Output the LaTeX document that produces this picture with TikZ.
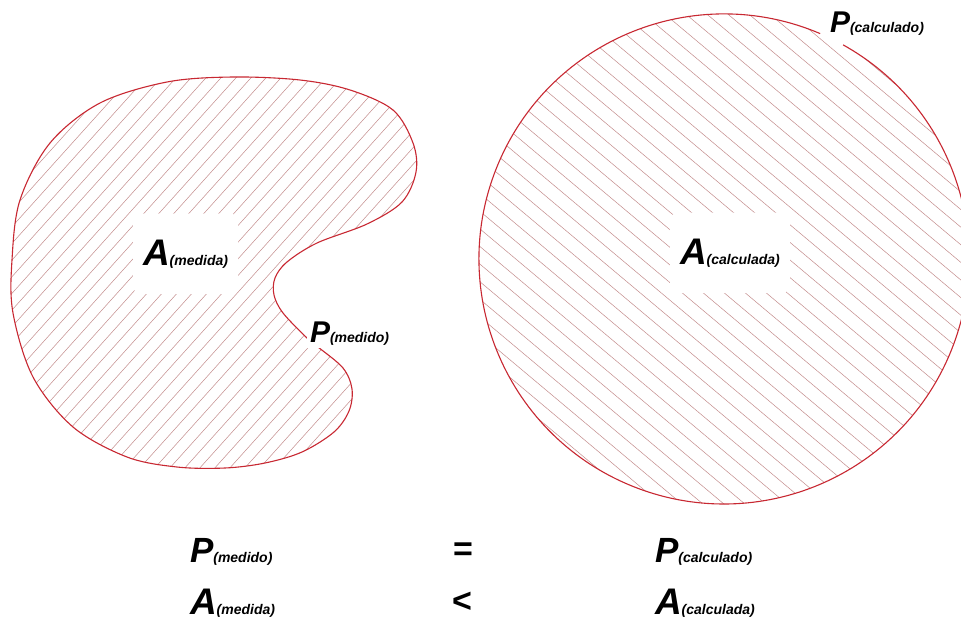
\documentclass[tikz,border=0pt]{standalone}
\usepackage{fontspec}
\newfontfamily\lblfont{Liberation Sans}
\usepackage{xcolor}
\definecolor{edge}{RGB}{200,40,50}
\definecolor{hatch}{RGB}{195,140,140}
\newcommand{\magn}[3][35]{{\fontsize{#1}{#1}\selectfont #2}{\fontsize{14}{14}\selectfont(#3)}}

\begin{document}
\begin{tikzpicture}[x=1pt,y=-1pt,
  outline/.style={draw=edge,line width=1.1pt},
  hatchline/.style={draw=hatch,line width=0.5pt},
  lbl/.style={anchor=text,inner sep=0pt,font=\lblfont\bfseries\itshape},
  blank/.style={lbl,fill=white,rounded corners=8pt,inner xsep=10pt,inner ysep=26pt},
  sign/.style={inner sep=0pt,font=\lblfont\bfseries\fontsize{34}{34}\selectfont}]
\useasboundingbox[fill=white] (0,0) rectangle (961,623);

% measured shape, hatched
\begin{scope}
\clip plot[smooth cycle,tension=0.55] coordinates {(318,347) (343,368) (352,389) (349,411) (334,432) (302,452) (265,463) (225,468) (177,467) (127,457) (73,427) (33,377) (13,313) (12,260) (20,200) (50,143) (100,103) (167,82) (233,77) (300,80) (350,90) (393,110) (413,143) (416,172) (402,202) (367,224) (317,243) (287,262) (275,278) (274,295) (283,313) (307,338)};
\foreach \x in {-480,-465,...,420}
  \draw[hatchline] (\x,490) -- ++(450,-500);
\end{scope}
\draw[outline] plot[smooth cycle,tension=0.55] coordinates {(318,347) (343,368) (352,389) (349,411) (334,432) (302,452) (265,463) (225,468) (177,467) (127,457) (73,427) (33,377) (13,313) (12,260) (20,200) (50,143) (100,103) (167,82) (233,77) (300,80) (350,90) (393,110) (413,143) (416,172) (402,202) (367,224) (317,243) (287,262) (275,278) (274,295) (283,313) (307,338)};

% circle of the same perimeter
\begin{scope}
\clip (724,259) circle[radius=245];
\foreach \x in {-150,-129,...,970}
  \draw[hatchline] (\x,0) -- ++(620,520);
\end{scope}
\draw[outline] (820.1,33.6) arc[start angle=-66.9,end angle=-420.9,radius=245];

\node[blank] (Amed) at (143,265) {\magn[37]{A}{medida}};
\node[lbl,fill=white,inner sep=3pt] (Pmed) at (310,342) {\magn[30]{P}{medido}};
\node[blank] (Acalc) at (680,264) {\magn[37]{A}{calculada}};
\node[lbl] (Pcalc) at (830,33) {\magn[30]{P}{calculado}};

% comparison
\node[lbl] (Pmedrow) at (190,562) {\magn{P}{medido}};
\node[lbl] (Amedrow) at (190,614) {\magn[37]{A}{medida}};
\node[sign] (eqsign) at (463,552) {=};
\node[sign] (ltsign) at (462,602) {<};
\node[lbl] (Pcalcrow) at (655,562) {\magn{P}{calculado}};
\node[lbl] (Acalcrow) at (655,614) {\magn[37]{A}{calculada}};
\end{tikzpicture}
\end{document}
